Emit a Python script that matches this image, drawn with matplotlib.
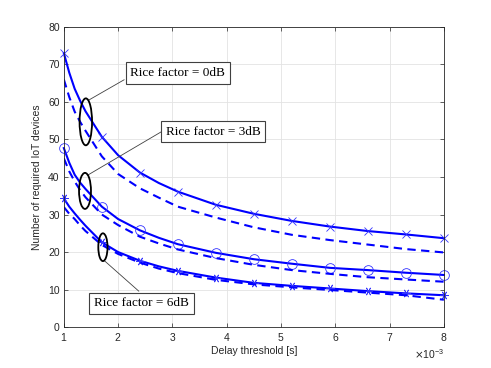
import matplotlib
matplotlib.use('Agg')
import matplotlib.pyplot as plt
from matplotlib.patches import Ellipse
from matplotlib.ticker import ScalarFormatter

# delay threshold [ms] and required devices
delay_ms = [1.0, 1.1, 1.2, 1.3, 1.4, 1.7, 2.0, 2.4, 2.75, 3.1, 3.8, 4.5, 5.2, 5.9, 6.6, 7.3, 8.0]
marker_idx = [0, 5, 7, 9, 10, 11, 12, 13, 14, 15, 16]

k0_solid = [73, 67.8, 63.5, 60.3, 57.5, 50.7, 45.8, 41.2, 38.4, 36.1, 32.6, 30.2, 28.3, 26.8, 25.6, 24.7, 23.7]
k0_dash = [66, 61.3, 57.4, 54.7, 52.3, 45.5, 40.8, 37.0, 34.5, 32.1, 29.2, 26.6, 24.6, 23.2, 22.0, 20.8, 19.9]
k3_solid = [47.7, 43.8, 40.6, 38.5, 36.8, 32.1, 28.8, 25.8, 23.8, 22.1, 19.8, 18.1, 16.9, 15.8, 15.2, 14.5, 13.9]
k3_dash = [45, 41.5, 38.8, 36.5, 34.6, 30.0, 27.2, 24.1, 22.3, 20.7, 18.4, 16.6, 15.2, 14.2, 13.3, 12.7, 12.1]
k6_solid = [34.3, 32.1, 30.3, 28.6, 27.0, 22.6, 20.0, 17.7, 16.2, 15.0, 13.2, 11.8, 11.0, 10.3, 9.6, 9.0, 8.5]
k6_dash = [32, 30.2, 28.8, 27.1, 25.6, 21.9, 19.5, 17.2, 15.6, 14.4, 12.6, 11.4, 10.6, 9.9, 9.2, 8.5, 7.3]

labels = ['Rice factor = 0dB', 'Rice factor = 3dB', 'Rice factor = 6dB']

x = [v * 1e-3 for v in delay_ms]

fig = plt.figure(figsize=(4.91, 3.68), dpi=100)
ax = fig.add_axes([0.130, 0.111, 0.774, 0.816])

blue = '#0000ff'
mk = dict(markevery=marker_idx, markerfacecolor='none', markeredgecolor='#3333ff',
          markeredgewidth=0.6, markersize=6, clip_on=False)
ax.plot(x, k0_solid, '-', color=blue, lw=1.5, marker='x', **mk)
ax.plot(x, k0_dash, '--', color=blue, lw=1.5, dashes=(4, 2.6))
ax.plot(x, k3_solid, '-', color=blue, lw=1.5, marker='o', **dict(mk, markersize=7))
ax.plot(x, k3_dash, '--', color=blue, lw=1.5, dashes=(4, 2.6))
ax.plot(x, k6_solid, '-', color=blue, lw=1.5, marker=(6, 2, 90), **mk)
ax.plot(x, k6_dash, '--', color=blue, lw=1.5, dashes=(4, 2.6))

# ellipses grouping solid/dashed pairs
for cx, cy, w, h in [(1.405e-3, 54.7, 0.23e-3, 12.5),
                     (1.39e-3, 36.3, 0.22e-3, 9.6),
                     (1.72e-3, 21.3, 0.17e-3, 7.4)]:
    ax.add_patch(Ellipse((cx, cy), w, h, fill=False, ec='black', lw=1.3, zorder=5))

box = dict(boxstyle='square,pad=0.35', fc='white', ec='#404040', lw=0.8)
tfont = dict(family='Liberation Serif', fontsize=9.5)
for lab, (tx, ty), (p0, p1) in zip(
        labels,
        [(3.10e-3, 67.7), (3.75e-3, 52.1), (2.43e-3, 6.4)],
        [((1.46e-3, 60.5), (2.11e-3, 65.9)),
         ((1.44e-3, 40.5), (2.79e-3, 52.0)),
         ((1.755e-3, 17.6), (2.38e-3, 9.6))]):
    ax.plot([p0[0], p1[0]], [p0[1], p1[1]], color='#404040', lw=0.6, zorder=4)
    ax.text(tx, ty, lab, ha='center', va='center', bbox=box, zorder=6, **tfont)

ax.set_xlim(1e-3, 8e-3)
ax.set_ylim(0, 80)
ax.set_xticks([i * 1e-3 for i in range(1, 9)])
ax.set_yticks(range(0, 81, 10))
fmt = ScalarFormatter(useMathText=True)
fmt.set_powerlimits((-2, 2))
ax.xaxis.set_major_formatter(fmt)

lab_font = dict(family='Liberation Sans', fontsize=7.5, color='#262626')
ax.set_xlabel('Delay threshold [s]', labelpad=2, **lab_font)
ax.set_ylabel('Number of required IoT devices', labelpad=4, **lab_font)
ax.tick_params(direction='in', top=True, right=True, length=3, width=0.5,
               labelsize=7.5, colors='#262626', pad=3)
for t in ax.get_xticklabels() + ax.get_yticklabels():
    t.set_family('Liberation Sans')
ax.xaxis.get_offset_text().set_fontsize(7.5)
ax.xaxis.get_offset_text().set_family('Liberation Sans')
ax.xaxis.get_offset_text().set_color('#262626')
for s in ax.spines.values():
    s.set_color('#262626')
    s.set_linewidth(0.6)
ax.grid(True, color='#e3e3e3', lw=0.6)
ax.set_axisbelow(True)

fig.savefig('out.png', dpi=100)
